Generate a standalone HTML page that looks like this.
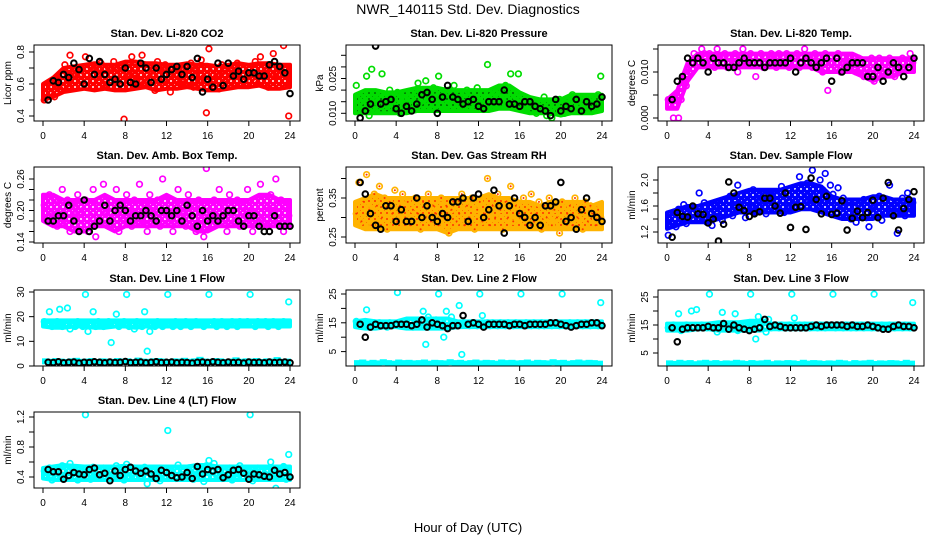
<!DOCTYPE html>
<html><head><meta charset="utf-8"><style>
html,body{margin:0;padding:0;background:#fff;}
svg{display:block;font-family:"Liberation Sans",sans-serif;}
</style></head><body>
<svg id="chart" width="936" height="540" viewBox="0 0 936 540">
<rect x="0" y="0" width="936" height="540" fill="#fff"/>
<text x="468" y="14" text-anchor="middle" font-size="14">NWR_140115  Std. Dev. Diagnostics</text>
<text x="468" y="532" text-anchor="middle" font-size="13">Hour of Day (UTC)</text>
</svg>
<script>
// ---- data ----
const hourTicks = [0,4,8,12,16,20,24];
const co2Values = [0.50,0.58,0.55,0.62,0.52,0.60,0.57,0.65,0.72,0.60,0.78,0.66,0.58,0.70,0.63,0.68,0.77,0.62,0.71,0.58,0.69,0.64,0.73,0.60,0.66,0.70,0.59,0.74,0.63,0.68,0.72,0.38,0.65,0.58,0.77,0.67,0.62,0.73,0.78,0.61,0.70,0.64,0.68,0.56,0.74,0.66,0.61,0.72,0.69,0.55,0.67,0.63,0.71,0.65,0.60,0.70,0.66,0.73,0.58,0.68,0.62,0.75,0.64,0.42,0.82,0.60,0.70,0.65,0.57,0.72,0.68,0.63,0.71,0.66,0.59,0.73,0.64,0.69,0.62,0.67,0.70,0.64,0.74,0.60,0.77,0.66,0.68,0.58,0.72,0.79,0.65,0.62,0.70,0.84,0.67,0.40];
const co2Black = [0.50,0.62,0.61,0.66,0.64,0.73,0.69,0.60,0.76,0.66,0.74,0.66,0.61,0.63,0.60,0.70,0.61,0.60,0.73,0.70,0.61,0.70,0.63,0.66,0.69,0.71,0.66,0.71,0.64,0.76,0.55,0.63,0.58,0.73,0.59,0.73,0.65,0.68,0.63,0.67,0.67,0.65,0.65,0.72,0.74,0.71,0.67,0.54];
const co2BandLow = [0.50,0.52,0.55,0.56,0.57,0.56,0.57,0.56,0.56,0.57,0.58,0.56,0.57,0.57,0.58,0.57,0.56,0.56,0.57,0.58,0.58,0.59,0.57,0.57,0.58];
const co2BandHigh = [0.60,0.64,0.70,0.71,0.72,0.73,0.72,0.72,0.74,0.74,0.73,0.73,0.72,0.72,0.73,0.72,0.72,0.71,0.72,0.73,0.72,0.73,0.73,0.72,0.72];
const pressValues = [0.022,0.011,0.017,0.013,0.026,0.009,0.029,0.015,0.012,0.018,0.027,0.014,0.011,0.020,0.016,0.013,0.019,0.010,0.016,0.013,0.012,0.017,0.014,0.018,0.023,0.015,0.019,0.024,0.016,0.012,0.021,0.017,0.026,0.014,0.018,0.013,0.020,0.016,0.022,0.015,0.018,0.013,0.017,0.020,0.015,0.019,0.014,0.021,0.017,0.012,0.016,0.031,0.014,0.018,0.015,0.013,0.020,0.016,0.022,0.014,0.027,0.019,0.017,0.027,0.015,0.012,0.013,0.016,0.011,0.014,0.010,0.015,0.012,0.017,0.009,0.013,0.008,0.014,0.011,0.016,0.012,0.010,0.015,0.013,0.018,0.011,0.016,0.013,0.014,0.012,0.017,0.011,0.015,0.013,0.018,0.026];
const pressBlack = [0.008,0.011,0.014,0.039,0.014,0.015,0.016,0.012,0.010,0.013,0.011,0.014,0.018,0.019,0.016,0.010,0.017,0.022,0.017,0.016,0.014,0.015,0.016,0.013,0.012,0.015,0.015,0.015,0.020,0.014,0.014,0.013,0.015,0.015,0.013,0.012,0.011,0.009,0.016,0.011,0.013,0.012,0.016,0.011,0.015,0.013,0.014,0.017];
const pressBandLow = [0.010,0.010,0.010,0.010,0.010,0.010,0.011,0.011,0.011,0.011,0.011,0.011,0.011,0.011,0.012,0.012,0.011,0.010,0.010,0.010,0.009,0.010,0.010,0.010,0.011];
const pressBandHigh = [0.018,0.020,0.020,0.019,0.019,0.020,0.021,0.021,0.021,0.020,0.020,0.020,0.020,0.020,0.022,0.022,0.019,0.017,0.016,0.016,0.016,0.018,0.018,0.018,0.018];
const tempValues = [0.004,0.003,0.000,0.003,0.000,0.004,0.008,0.007,0.010,0.012,0.014,0.013,0.012,0.015,0.014,0.012,0.014,0.013,0.011,0.015,0.013,0.012,0.014,0.011,0.013,0.012,0.014,0.010,0.013,0.015,0.012,0.013,0.014,0.012,0.009,0.013,0.014,0.011,0.013,0.012,0.014,0.013,0.011,0.014,0.012,0.013,0.014,0.011,0.013,0.012,0.014,0.011,0.013,0.015,0.012,0.013,0.011,0.014,0.012,0.013,0.010,0.014,0.006,0.013,0.012,0.011,0.014,0.010,0.013,0.012,0.011,0.013,0.012,0.010,0.013,0.011,0.009,0.012,0.010,0.013,0.008,0.011,0.013,0.009,0.012,0.010,0.013,0.011,0.009,0.012,0.010,0.013,0.011,0.012,0.014,0.012];
const tempBlack = [0.004,0.008,0.009,0.013,0.012,0.013,0.012,0.010,0.013,0.012,0.012,0.011,0.011,0.012,0.013,0.012,0.012,0.012,0.011,0.012,0.012,0.012,0.012,0.013,0.010,0.012,0.013,0.012,0.011,0.012,0.013,0.008,0.013,0.010,0.011,0.012,0.012,0.012,0.009,0.009,0.011,0.008,0.010,0.012,0.011,0.009,0.011,0.013];
const tempBandLow = [0.002,0.002,0.008,0.011,0.011,0.011,0.011,0.011,0.011,0.011,0.011,0.011,0.011,0.011,0.011,0.010,0.010,0.010,0.010,0.009,0.008,0.009,0.009,0.010,0.010];
const tempBandHigh = [0.004,0.006,0.012,0.014,0.014,0.014,0.014,0.014,0.014,0.014,0.014,0.014,0.014,0.014,0.014,0.014,0.014,0.014,0.014,0.013,0.013,0.013,0.013,0.013,0.013];
const ambValues = [0.21,0.18,0.23,0.19,0.22,0.17,0.20,0.24,0.18,0.22,0.16,0.21,0.19,0.23,0.17,0.20,0.22,0.16,0.19,0.24,0.15,0.21,0.18,0.25,0.20,0.17,0.22,0.19,0.24,0.16,0.21,0.18,0.23,0.20,0.17,0.22,0.19,0.25,0.18,0.21,0.16,0.23,0.20,0.18,0.22,0.17,0.26,0.20,0.19,0.22,0.16,0.21,0.24,0.18,0.20,0.17,0.23,0.19,0.21,0.16,0.22,0.18,0.15,0.28,0.20,0.17,0.22,0.19,0.24,0.18,0.21,0.16,0.23,0.20,0.18,0.22,0.17,0.21,0.19,0.24,0.20,0.16,0.22,0.19,0.25,0.18,0.21,0.17,0.23,0.20,0.26,0.18,0.22,0.16,0.21,0.19];
const ambBlack = [0.18,0.18,0.19,0.19,0.21,0.18,0.16,0.22,0.16,0.17,0.18,0.21,0.18,0.20,0.21,0.20,0.18,0.19,0.19,0.20,0.19,0.18,0.20,0.20,0.19,0.20,0.18,0.21,0.19,0.17,0.20,0.18,0.19,0.18,0.19,0.20,0.20,0.18,0.17,0.19,0.19,0.17,0.16,0.16,0.19,0.17,0.17,0.17];
const ambBandLow = [0.18,0.17,0.17,0.16,0.16,0.17,0.17,0.16,0.17,0.17,0.17,0.17,0.17,0.17,0.17,0.16,0.16,0.17,0.17,0.17,0.17,0.17,0.17,0.17,0.17];
const ambBandHigh = [0.23,0.23,0.22,0.22,0.22,0.22,0.23,0.22,0.22,0.22,0.22,0.22,0.23,0.22,0.22,0.22,0.22,0.22,0.22,0.22,0.22,0.23,0.23,0.22,0.22];
const rhValues = [0.31,0.39,0.29,0.34,0.41,0.32,0.28,0.36,0.33,0.38,0.30,0.35,0.27,0.34,0.31,0.37,0.29,0.33,0.36,0.30,0.34,0.28,0.32,0.35,0.31,0.27,0.34,0.30,0.36,0.29,0.33,0.31,0.28,0.35,0.30,0.33,0.26,0.32,0.34,0.29,0.31,0.36,0.28,0.33,0.30,0.35,0.27,0.32,0.34,0.29,0.31,0.40,0.28,0.33,0.30,0.36,0.32,0.27,0.34,0.30,0.38,0.29,0.33,0.31,0.30,0.35,0.28,0.32,0.36,0.29,0.31,0.34,0.27,0.33,0.30,0.35,0.28,0.32,0.30,0.26,0.34,0.29,0.31,0.33,0.28,0.35,0.30,0.32,0.27,0.34,0.29,0.33,0.31,0.28,0.32,0.30];
const rhBlack = [0.39,0.36,0.31,0.28,0.27,0.33,0.33,0.29,0.32,0.29,0.29,0.35,0.30,0.33,0.30,0.29,0.31,0.30,0.34,0.34,0.35,0.29,0.35,0.36,0.30,0.32,0.37,0.33,0.26,0.33,0.35,0.31,0.30,0.28,0.30,0.28,0.33,0.33,0.34,0.39,0.29,0.30,0.27,0.32,0.35,0.31,0.30,0.29];
const rhBandLow = [0.28,0.27,0.27,0.27,0.27,0.27,0.27,0.27,0.27,0.26,0.27,0.27,0.27,0.27,0.27,0.27,0.27,0.27,0.27,0.27,0.27,0.27,0.27,0.27,0.27];
const rhBandHigh = [0.34,0.35,0.36,0.35,0.35,0.35,0.35,0.35,0.35,0.35,0.35,0.35,0.35,0.36,0.35,0.35,0.34,0.34,0.33,0.34,0.34,0.34,0.34,0.33,0.34];
const flowValues = [1.15,1.35,1.50,1.28,1.55,1.40,1.62,1.33,1.45,1.58,1.38,1.52,1.80,1.42,1.65,1.35,1.48,1.30,1.60,1.44,1.55,1.38,1.68,1.50,1.75,1.45,1.62,1.92,1.55,1.70,1.42,1.65,1.58,1.85,1.50,1.72,1.60,1.78,1.48,1.68,1.82,1.55,1.75,1.62,1.90,1.50,1.72,1.65,1.60,1.88,1.70,2.05,1.58,1.80,1.95,1.68,2.15,1.75,1.62,2.00,1.85,2.10,1.70,1.92,1.78,1.60,1.88,1.55,1.72,1.45,1.65,1.40,1.58,1.35,1.62,1.50,1.70,1.42,1.28,1.55,1.60,1.45,1.75,1.38,1.68,1.50,1.92,1.55,1.62,1.18,1.50,1.72,1.45,1.80,1.55,1.65];
const flowBlack = [1.12,1.50,1.44,1.43,1.60,1.48,1.47,1.34,1.40,1.06,1.32,1.97,1.80,1.58,1.53,1.44,1.48,1.51,1.72,1.72,1.60,1.49,1.80,1.27,1.58,1.59,1.24,2.03,1.70,1.48,1.75,1.47,1.49,1.68,1.23,1.41,1.52,1.42,1.50,1.69,1.42,1.72,1.96,1.45,1.23,1.56,1.70,1.82];
const flowBandLow = [1.25,1.30,1.35,1.35,1.35,1.40,1.45,1.50,1.50,1.50,1.50,1.50,1.50,1.55,1.55,1.50,1.45,1.40,1.40,1.40,1.40,1.45,1.45,1.45,1.45];
const flowBandHigh = [1.50,1.55,1.60,1.60,1.65,1.70,1.75,1.80,1.85,1.85,1.85,1.85,1.90,1.95,1.95,1.90,1.75,1.70,1.70,1.70,1.75,1.75,1.70,1.70,1.70];
const line1Values = [18,17,22,16,17,18,23,16,17,23.5,15,17,16,18,17,16,29,14,17,22,16,18,17,16,17,18,9.5,17,21,16,17,18,29,16,17,15,18,17,16,22,6,14,17,16,18,17,16,17,29,17,16,18,17,16,17,18,17,16,17,18,17,17,16,17,29,17,18,16,17,18,17,16,17,18,17,16,18,17,17,18,29,17,16,18,17,17,18,16,17,18,17,16,17,18,17,26];
const line1Low = [1.9,1.7,2.0,1.8,1.6,1.9,2.1,1.7,1.8,2.0,1.6,1.9,1.8,1.7,2.0,1.8,1.9,1.6,2.2,1.8,1.7,1.9,2.0,1.8,1.6,1.9,1.8,2.1,1.7,1.9,2.5,1.8,1.7,2.0,1.9,1.6,1.8,2.3,1.7,1.9,1.8,2.0,1.6,1.9,1.8,2.4,1.7,1.8];
const line1Black = [1.5,1.4,1.7,1.3,1.5,1.6,1.2,1.5,1.4,1.7,1.5,1.3,1.6,1.4,1.5,1.8,1.4,1.5,1.6,1.3,1.5,1.7,1.4,1.5,1.6,1.3,1.5,1.4,1.2,1.5,1.6,1.4,1.7,1.5,1.3,1.6,1.4,1.5,1.2,1.6,1.4,1.5,1.3,1.6,1.4,1.5,1.6,1.3];
const line1BandLow = [16,15.5,15.5,16,16,15.5,15.5,16,16,15.5,16,16,16,16,16,16,16,16,16,16,16,16,16,16,16];
const line1BandHigh = [18.5,18.5,18.5,18.5,18.5,18.5,18.5,18.5,18.5,18.5,18.5,18.5,18.5,18.5,18.5,18.5,18.5,18.5,18.5,18.5,18.5,18.5,18.5,18.5,18.5];
const line2Values = [15.5,14,15,14.5,19.5,14,13.5,15,14,15,14.5,14,13.5,15,14,14.5,25.5,14,15,14.5,14,15,13.5,14.5,15,14,19,7.5,17,15,14,16,25,14.5,10,19,14,17,15,14,21,4,15,14.5,14,15,14.5,14,25,17.5,14.5,15,14,15,14.5,14,15,14.5,14,15,14.5,14,15,14.5,25,14,15,14.5,14,15,14.5,14,15,14,14.5,15,14,14.5,15,14,25,14.5,14,15,14.5,14,15,14.5,14,15,14.5,14,15,14.5,14,22];
const line2Low = [1.0,1.2,0.8,1.1,0.9,1.3,1.0,0.8,1.2,1.0,1.1,0.9,1.0,1.2,0.8,1.1,1.0,0.9,1.3,1.0,1.1,0.8,1.0,1.2,0.9,1.1,1.0,0.8,1.2,1.0,1.1,0.9,1.0,1.2,0.8,1.1,1.0,0.9,1.3,1.0,1.1,0.8,1.0,1.2,0.9,1.1,1.0,0.8];
const line2Black = [14.5,10,13.5,14.5,14,14,14,14.5,14.5,14.5,14,14.5,16,13.5,15,14.5,14,13,14,14,17.5,14.5,15,14.5,13.5,14.5,14.5,14.5,14.5,14,14.5,14.5,14,14.5,14.5,14.5,14.5,15,15,14.5,14,13.5,14,14.5,14.5,15,15,14];
const line2BandLow = [13.5,13,13,13.5,13.5,13,13,13,13,13,13.5,13.5,13.5,13.5,13.5,13.5,13.5,13.5,13.5,13.5,13.5,13.5,13.5,13.5,13.5];
const line2BandHigh = [15.5,16,15.5,15.5,15.5,16.5,16.5,16.5,16.5,16.5,15.5,15.5,15.5,15.5,15.5,15.5,15.5,15.5,15.5,15.5,15.5,15.5,15.5,15.5,15.5];
const line3Values = [14,14.5,15,14,19,13,14.5,15,14,20,14.5,20.5,14,15,14.5,14,26,14,15,12.5,14.5,19.5,14,15,14.5,14,19,13,14.5,15,14,14.5,26,14.5,10,18,14,16,12.5,17,14,15,14.5,14,15,14.5,14,15,26,17.5,14.5,15,14,15,14.5,14,15,14.5,14,15,14.5,14,15,14.5,26,14,15,14.5,14,15,14.5,14,15,14,14.5,15,14,14.5,15,14,26,14.5,14,15,14.5,14,15,14.5,14,15,14.5,14,15,14.5,14,23];
const line3Low = [1.3,1.1,1.5,1.2,1.4,1.0,1.3,1.5,1.2,1.4,1.1,1.3,1.2,1.5,1.3,1.1,1.4,1.2,1.3,1.5,1.0,1.3,1.2,1.4,1.3,1.1,1.5,1.2,1.4,1.3,1.1,1.3,1.2,1.5,1.3,1.0,1.4,1.2,1.3,1.5,1.1,1.3,1.2,1.4,1.3,1.1,1.5,1.2];
const line3Black = [14,9,13.5,14,14,14,14,14.5,14,14,15.5,13.5,15,14,13.5,13,13.5,14,17,14.5,15,14.5,14,14,14,14,14,14.5,15,14.5,15,15,15,15,14.5,15,14.5,14.5,15,14.5,14,13.5,13.5,14.5,15,14.5,14.5,14];
const line3BandLow = [13,13,13,13.5,13.5,13,13,13,13,13,13.5,13.5,13.5,13.5,13.5,13.5,13.5,13.5,13.5,13.5,13.5,13.5,13.5,13.5,13.5];
const line3BandHigh = [15.5,15.5,15.5,15.5,15.5,16,16,16,16.5,16.5,15.5,15.5,15.5,15.5,15.5,15.5,15.5,15.5,15.5,15.5,15.5,15.5,15.5,15.5,15.5];
const line4Values = [0.48,0.40,0.52,0.36,0.45,0.50,0.42,0.55,0.38,0.47,0.58,0.44,0.50,0.36,0.46,0.41,1.23,0.49,0.37,0.53,0.43,0.48,0.40,0.52,0.45,0.38,0.50,0.44,0.55,0.41,0.47,0.36,0.57,0.46,0.42,0.51,0.39,0.48,0.44,0.53,0.31,0.46,0.50,0.40,0.47,0.35,0.43,0.49,1.02,0.45,0.51,0.38,0.56,0.44,0.48,0.40,0.52,0.43,0.37,0.50,0.46,0.41,0.34,0.55,0.62,0.47,0.58,0.42,0.50,0.38,0.46,0.43,0.52,0.36,0.48,0.44,0.55,0.40,0.47,0.51,1.23,0.35,0.46,0.52,0.42,0.48,0.39,0.50,0.60,0.44,0.25,0.49,0.41,0.54,0.37,0.70];
const line4Black = [0.50,0.47,0.47,0.37,0.42,0.46,0.44,0.43,0.50,0.52,0.43,0.45,0.35,0.48,0.42,0.50,0.53,0.48,0.45,0.48,0.44,0.38,0.49,0.46,0.42,0.39,0.40,0.46,0.38,0.54,0.44,0.50,0.48,0.50,0.39,0.43,0.49,0.50,0.45,0.37,0.44,0.43,0.41,0.40,0.49,0.44,0.46,0.40];
const line4BandLow = [0.38,0.36,0.36,0.36,0.36,0.36,0.36,0.36,0.36,0.36,0.36,0.36,0.36,0.36,0.36,0.36,0.36,0.36,0.36,0.36,0.36,0.36,0.36,0.36,0.36];
const line4BandHigh = [0.52,0.54,0.56,0.55,0.54,0.54,0.54,0.54,0.55,0.54,0.54,0.54,0.54,0.54,0.54,0.56,0.56,0.54,0.54,0.54,0.54,0.54,0.54,0.54,0.54];

// ---- layout / drawing ----
const NS = "http://www.w3.org/2000/svg";
const svg = document.getElementById("chart");
function mk(tag, attrs, parent){const e=document.createElementNS(NS,tag);for(const k in attrs)e.setAttribute(k,attrs[k]);(parent||svg).appendChild(e);return e;}
const defs=mk("defs",{});
const colX=[34,346,658], rowY=[45,167,290,412], W=266, H=76;
const panels=[
 {id:"co2",title:"Stan. Dev. Li-820 CO2",yl:"Licor ppm",c:0,r:0,col:"#ff0000",vals:co2Values,blk:co2Black,bl:co2BandLow,bh:co2BandHigh,ref:[0.4,116,0.8,52],ticks:[0.4,0.5,0.6,0.7,0.8],labs:[0.4,0.6,0.8],fmt:1},
 {id:"pressure",title:"Stan. Dev. Li-820 Pressure",yl:"kPa",c:1,r:0,col:"#00dd00",vals:pressValues,blk:pressBlack,bl:pressBandLow,bh:pressBandHigh,ref:[0.010,113.3,0.025,78.5],ticks:[0.010,0.015,0.020,0.025,0.030,0.035],labs:[0.010,0.025],fmt:3,dot:"#006600"},
 {id:"temp",title:"Stan. Dev. Li-820 Temp.",yl:"degrees C",c:2,r:0,col:"#ff00ff",vals:tempValues,blk:tempBlack,bl:tempBandLow,bh:tempBandHigh,ref:[0,118,0.010,72],ticks:[0,0.005,0.010,0.015],labs:[0,0.010],fmt:3},
 {id:"amb-box",title:"Stan. Dev. Amb. Box Temp.",yl:"degrees C",c:0,r:1,col:"#ff00ff",vals:ambValues,blk:ambBlack,bl:ambBandLow,bh:ambBandHigh,ref:[0.14,242,0.26,179],ticks:[0.14,0.16,0.18,0.20,0.22,0.24,0.26],labs:[0.14,0.20,0.26],fmt:2},
 {id:"gas-rh",title:"Stan. Dev. Gas Stream RH",yl:"percent",c:1,r:1,col:"#ffb300",vals:rhValues,blk:rhBlack,bl:rhBandLow,bh:rhBandHigh,ref:[0.25,237,0.35,198],ticks:[0.25,0.30,0.35,0.40],labs:[0.25,0.35],fmt:2,inner:"#ff3300",dot:"#ff3300"},
 {id:"sample-flow",title:"Stan. Dev. Sample Flow",yl:"ml/min",c:2,r:1,col:"#0000ff",vals:flowValues,blk:flowBlack,bl:flowBandLow,bh:flowBandHigh,ref:[1.2,232,2.0,180],ticks:[1.2,1.4,1.6,1.8,2.0],labs:[1.2,1.6,2.0],fmt:1},
 {id:"line1",title:"Stan. Dev. Line 1 Flow",yl:"ml/min",c:0,r:2,col:"#00ffff",vals:line1Values,low:line1Low,blk:line1Black,bl:line1BandLow,bh:line1BandHigh,ref:[0,366,30,292],ticks:[0,10,20,30],labs:[0,10,20,30],fmt:0},
 {id:"line2",title:"Stan. Dev. Line 2 Flow",yl:"ml/min",c:1,r:2,col:"#00ffff",vals:line2Values,low:line2Low,blk:line2Black,bl:line2BandLow,bh:line2BandHigh,ref:[0,366,25,294],ticks:[5,10,15,20,25],labs:[5,15,25],fmt:0},
 {id:"line3",title:"Stan. Dev. Line 3 Flow",yl:"ml/min",c:2,r:2,col:"#00ffff",vals:line3Values,low:line3Low,blk:line3Black,bl:line3BandLow,bh:line3BandHigh,ref:[0,367,25,297],ticks:[5,10,15,20,25],labs:[5,15,25],fmt:0},
 {id:"line4",title:"Stan. Dev. Line 4 (LT) Flow",yl:"ml/min",c:0,r:3,col:"#00ffff",vals:line4Values,blk:line4Black,bl:line4BandLow,bh:line4BandHigh,ref:[0.4,477,1.2,417],ticks:[0.4,0.6,0.8,1.0,1.2],labs:[0.4,0.8,1.2],fmt:1}
];
panels.forEach(p=>{
  const L=colX[p.c], T=rowY[p.r];
  const g=mk("g",{});
  
  
  const xS=h=>L+9+h*(247/24);
  const yS=v=>p.ref[1]+(v-p.ref[0])*(p.ref[3]-p.ref[1])/(p.ref[2]-p.ref[0]);
  // pattern
  const pat=mk("pattern",{id:"pat-"+p.id,width:6,height:6,patternUnits:"userSpaceOnUse"},defs);
  mk("rect",{x:0,y:0,width:6,height:6,fill:p.col},pat);
  mk("circle",{cx:3,cy:3,r:1,fill:p.dot||"#fff"},pat);
  mk("circle",{cx:0,cy:0,r:0.8,fill:p.dot||"#fff"},pat);
  const t=mk("text",{x:L+W/2,y:T-8,"text-anchor":"middle","font-size":"11","font-weight":"bold"},g);
  t.textContent=p.title;
  
  
  const clip=mk("clipPath",{id:"cl-"+p.id},g);
  mk("rect",{x:L,y:T,width:W,height:H},clip);
  const pts=mk("g",{"clip-path":"url(#cl-"+p.id+")",fill:"none"},g);
  
  
  // density band
  const up=p.bh.map((v,i)=>xS(i*24/(p.bh.length-1)).toFixed(1)+","+yS(v).toFixed(1));
  const dn=p.bl.map((v,i)=>xS(i*24/(p.bl.length-1)).toFixed(1)+","+yS(v).toFixed(1)).reverse();
  const band=mk("polygon",{points:up.concat(dn).join(" "),fill:"url(#pat-"+p.id+")",stroke:p.col,"stroke-width":4,"stroke-linejoin":"round"},pts);
  
  
  const n=p.vals.length;
  p.vals.forEach((v,i)=>{
    const c=mk("circle",{cx:xS(i*24/n+0.125),cy:yS(v),r:2.8,stroke:p.col,"stroke-width":1.7},pts);
    
    
    if(p.inner){mk("circle",{cx:xS(i*24/n+0.125),cy:yS(v),r:1,fill:p.inner},pts);}
  });
  if(p.low){p.low.forEach((v,i)=>{
    const c=mk("rect",{x:xS(i*0.5)-1,y:yS(v)-3,width:xS(0.5)-xS(0)+2,height:6,fill:p.col},pts);
    
    
  });}
  p.blk.forEach((v,i)=>{
    const c=mk("circle",{cx:xS(0.5+i*0.5),cy:yS(v),r:2.8,stroke:"#000","stroke-width":2},pts);
    
    
  });
  mk("rect",{x:L,y:T,width:W,height:H,fill:"none",stroke:"#000","stroke-width":1},g);
  const xa=mk("g",{},g);
  
  
  hourTicks.forEach(h=>{
    mk("line",{x1:xS(h),x2:xS(h),y1:T+H,y2:T+H+5,stroke:"#000"},xa);
    const tx=mk("text",{x:xS(h),y:T+H+18,"text-anchor":"middle","font-size":"10"},xa);
    tx.textContent=h;
  });
  const ya=mk("g",{},g);
  
  
  p.ticks.forEach(v=>{const y=yS(v);mk("line",{x1:L-5,x2:L,y1:y,y2:y,stroke:"#000"},ya);});
  p.labs.forEach(v=>{const y=yS(v);
    const tx=mk("text",{x:0,y:0,"text-anchor":"middle","font-size":"10",transform:"translate("+(L-10)+","+y+") rotate(-90)"},ya);
    tx.textContent=v.toFixed(p.fmt);
  });
  const yt=mk("text",{x:0,y:0,"text-anchor":"middle","font-size":"10",transform:"translate("+(L-23)+","+(T+H/2)+") rotate(-90)"},g);
  yt.textContent=p.yl;
  
  
});
</script>
</body></html>
